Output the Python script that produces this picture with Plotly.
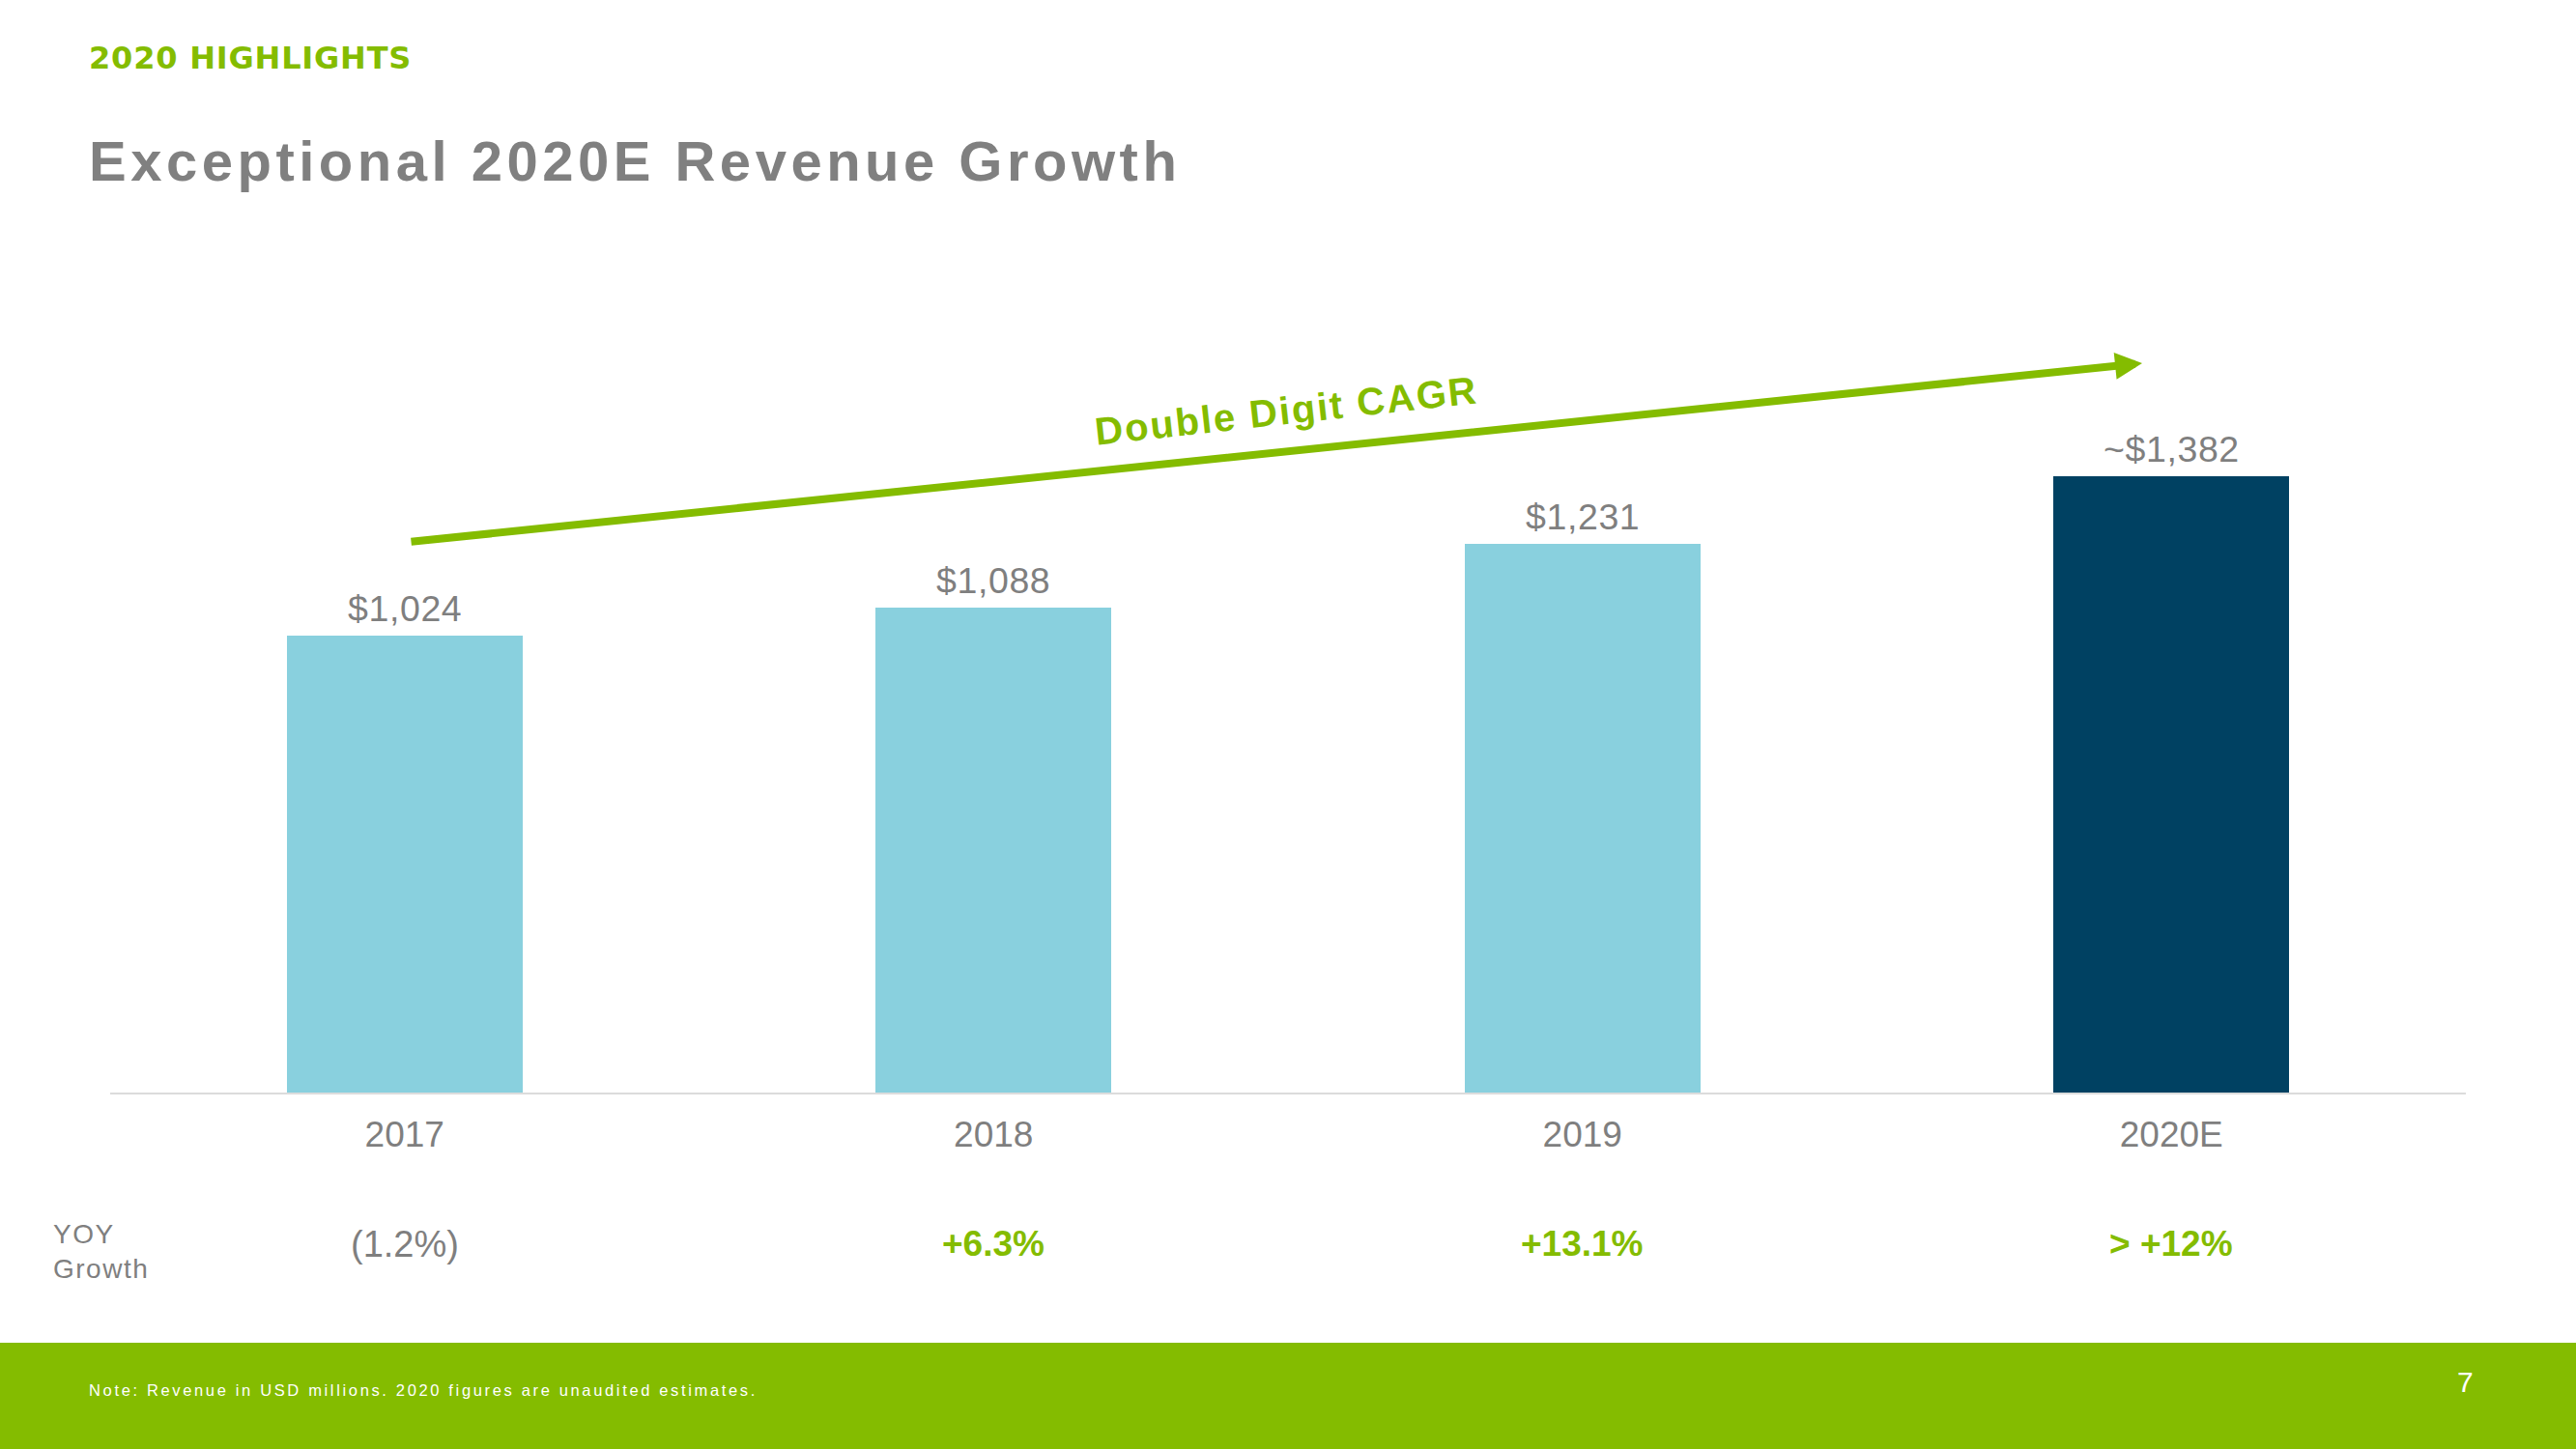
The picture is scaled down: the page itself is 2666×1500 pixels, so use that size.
import plotly.graph_objects as go

# ---------------- data ----------------
categories = ["2017", "2018", "2019", "2020E"]
revenue = [1024, 1088, 1231, 1382]              # USD millions
value_labels = ["$1,024", "$1,088", "$1,231", "~$1,382"]
yoy_growth = ["(1.2%)", "+6.3%", "+13.1%", "> +12%"]
yoy_positive = [False, True, True, True]
estimate_flags = [False, False, False, True]

# ---------------- style ----------------
W, H = 2666, 1500
PLOT_L, PLOT_R, PLOT_T, PLOT_B = 114, 2552, 300, 1131
GREEN = "#84BC00"
GRAY = "#7F7F7F"
TITLE_GRAY = "#808080"
LIGHT = "#89D0DE"
DARK = "#004162"
AXIS_GRAY = "#DCDCDC"
bar_colors = [DARK if e else LIGHT for e in estimate_flags]

SANS = "Liberation Sans, Arial, sans-serif"
HEAVY = "DejaVu Sans, Liberation Sans, sans-serif"


def px_x(X):
    return (X - PLOT_L) / (PLOT_R - PLOT_L)


def px_y(Y):
    return (PLOT_B - Y) / (PLOT_B - PLOT_T)


def spaced(text, px):
    return f'<span style="letter-spacing:{px}px">{text}</span>'


fig = go.Figure()
fig.add_trace(go.Bar(
    x=categories, y=revenue, width=0.4,
    marker=dict(color=bar_colors, line=dict(width=0)),
    hoverinfo="skip", showlegend=False,
))

annotations = []

# value labels above bars (x given as category index)
for i, (v, lab) in enumerate(zip(revenue, value_labels)):
    annotations.append(dict(
        x=i, y=v, xref="x", yref="y", yshift=28,
        text=spaced(lab, 0.6), showarrow=False,
        xanchor="center", yanchor="middle",
        font=dict(family=SANS, size=37.5, color=GRAY),
    ))

# YOY growth row
for i, (g, pos) in enumerate(zip(yoy_growth, yoy_positive)):
    annotations.append(dict(
        x=i, y=px_y(1287.5), xref="x", yref="paper",
        text=g, showarrow=False,
        xanchor="center", yanchor="middle",
        font=dict(family=SANS, size=37 if pos else 38,
                  color=GREEN if pos else GRAY,
                  weight=700 if pos else 400),
    ))

annotations.append(dict(
    x=px_x(53), y=px_y(1295), xref="paper", yref="paper",
    text=spaced("YOY", 1.5) + "<br>" + spaced("Growth", 1.5),
    showarrow=False, xanchor="left", yanchor="middle", align="left",
    font=dict(family=SANS, size=28, color=GRAY),
))

# headers
annotations.append(dict(
    x=px_x(90), y=px_y(60), xref="paper", yref="paper",
    text=spaced("2020 HIGHLIGHTS", 0.8), showarrow=False,
    xanchor="left", yanchor="middle",
    font=dict(family=HEAVY, size=32, color=GREEN, weight=700),
))
annotations.append(dict(
    x=px_x(90), y=px_y(166), xref="paper", yref="paper",
    text=spaced("Exceptional 2020E Revenue Growth", 4.5), showarrow=False,
    xanchor="left", yanchor="middle",
    font=dict(family=SANS, size=58, color=TITLE_GRAY, weight=700),
))

# CAGR arrow + label
annotations.append(dict(
    x=px_x(2217), y=px_y(376), xref="paper", yref="paper",
    ax=424 - 2217, ay=561 - 376, axref="pixel", ayref="pixel",
    text="", showarrow=True, arrowhead=2, arrowwidth=8, arrowsize=0.7,
    arrowcolor=GREEN,
))
annotations.append(dict(
    x=px_x(1331), y=px_y(425), xref="paper", yref="paper",
    text=spaced("Double Digit CAGR", 2), showarrow=False, textangle=-6.3,
    xanchor="center", yanchor="middle",
    font=dict(family=SANS, size=40, color=GREEN, weight=700),
))

# footer
annotations.append(dict(
    x=px_x(90), y=px_y(1439), xref="paper", yref="paper",
    text=spaced("Note: Revenue in USD millions. 2020 figures are unaudited estimates.", 2.65),
    showarrow=False, xanchor="left", yanchor="middle",
    font=dict(family=SANS, size=16.5, color="white"),
))
annotations.append(dict(
    x=px_x(2551), y=px_y(1430), xref="paper", yref="paper",
    text="7", showarrow=False, xanchor="center", yanchor="middle",
    font=dict(family=SANS, size=30, color="white"),
))

shapes = [dict(
    type="rect", xref="paper", yref="paper",
    x0=px_x(-10), x1=px_x(W + 10), y0=px_y(H + 10), y1=px_y(1390),
    fillcolor=GREEN, line=dict(width=0), layer="below",
)]

fig.update_layout(
    width=W, height=H,
    margin=dict(l=PLOT_L, r=W - PLOT_R, t=PLOT_T, b=H - PLOT_B, pad=0, autoexpand=False),
    paper_bgcolor="white", plot_bgcolor="white",
    showlegend=False, bargap=0,
    annotations=annotations, shapes=shapes,
    xaxis=dict(
        type="category", range=[-0.5, 3.5], automargin=False,
        showline=True, linecolor=AXIS_GRAY, linewidth=2,
        showgrid=False, zeroline=False, ticks="", ticklen=0,
        tickvals=categories, ticktext=categories,
        tickfont=dict(family=SANS, size=37, color=GRAY),
        ticklabelstandoff=10, fixedrange=True,
    ),
    yaxis=dict(range=[0, 1800], visible=False, automargin=False, fixedrange=True),
)

fig.write_html(
    "out.html",
    config={"displayModeBar": False, "staticPlot": True},
    post_script="document.body.style.margin='0px';",
)
